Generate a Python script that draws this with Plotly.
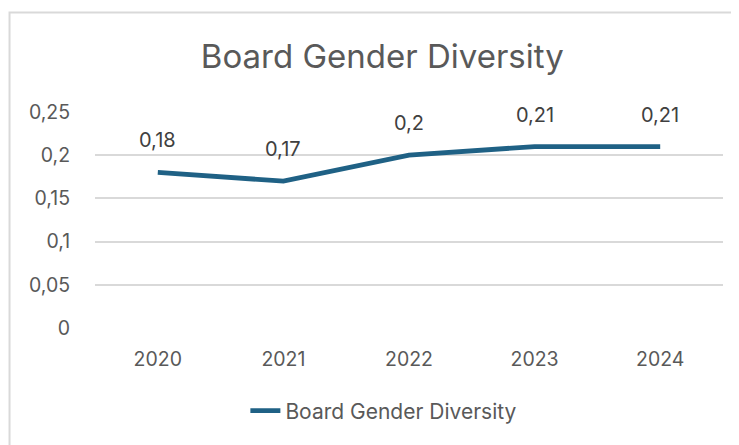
import plotly.graph_objects as go

years = ['2020', '2021', '2022', '2023', '2024']
diversity = [0.18, 0.17, 0.20, 0.21, 0.21]
y_ticks = [0, 0.05, 0.1, 0.15, 0.2, 0.25]

line_color = '#1F6185'
grey = '#595959'

fig = go.Figure()
fig.add_trace(go.Scatter(
    x=years, y=diversity, mode='lines', name='Board Gender Diversity',
    line=dict(color=line_color, width=4.8),
))

# data labels above the points, excel style
# (x given as category index so plotly doesn't read '2020' as a position)
for i, v in enumerate(diversity):
    fig.add_annotation(x=i, y=v, text=('%g' % v).replace('.', ','),
                       showarrow=False, yshift=32,
                       font=dict(size=20, color='#404040'))

# light border of the chart area (only top and left show in the crop)
fig.add_shape(type='rect', xref='paper', yref='paper',
              x0=-0.1361, x1=2, y0=-2, y1=1.4606,
              line=dict(color='#D9D9D9', width=2), layer='below')

# page body has an 8px margin, so the figure is 8px smaller than the window
fig.update_layout(
    width=731, height=437,
    margin=dict(l=87, r=16, t=104, b=117),
    paper_bgcolor='white', plot_bgcolor='white',
    separators=',.',
    font=dict(family='Inter, Liberation Sans, sans-serif', color=grey, size=16),
    title=dict(text='Board Gender Diversity', x=0.512, xanchor='center',
               y=0.89, yanchor='middle', font=dict(size=33, color=grey)),
    showlegend=True,
    legend=dict(orientation='h', x=0.46, xanchor='center', y=-0.384, yanchor='middle',
                font=dict(size=21, color=grey)),
    xaxis=dict(type='category', range=[-0.5, 4.5], showgrid=False, zeroline=False,
               showline=False, ticks='outside', ticklen=14,
               tickcolor='rgba(0,0,0,0)', tickfont=dict(size=19.5, color=grey)),
    yaxis=dict(range=[0, 0.25], tickvals=y_ticks, showgrid=True,
               gridcolor='#D9D9D9', gridwidth=1.5, zeroline=False,
               ticks='outside', ticklen=20, tickcolor='rgba(0,0,0,0)',
               tickfont=dict(size=19.5, color=grey)),
)

fig.write_html('out.html')
